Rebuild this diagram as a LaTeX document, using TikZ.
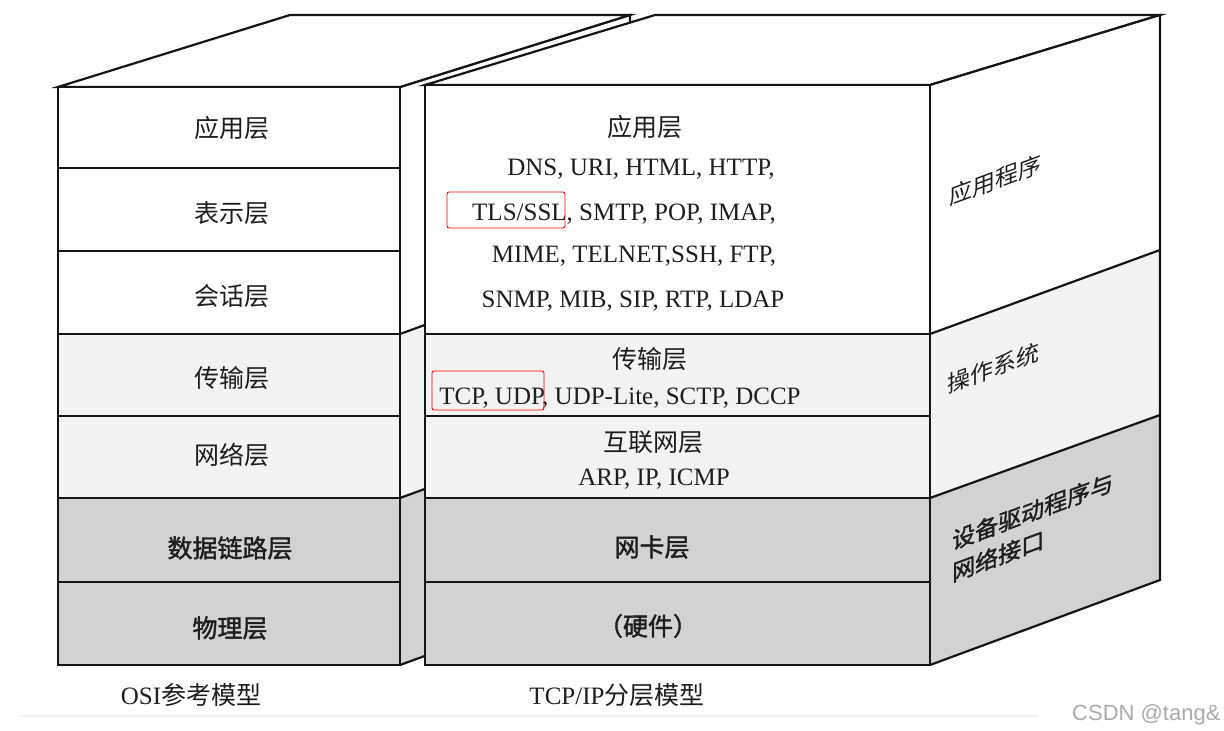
\documentclass[tikz,border=0pt]{standalone}
\usepackage{fontspec}
\setmainfont{Liberation Serif}
\newfontfamily\cjk{Noto Sans CJK SC}
\newfontfamily\cjkb[FakeBold=1.6]{Noto Sans CJK SC}
\newfontfamily\wmfont{Liberation Sans}
\definecolor{edge}{HTML}{151515}
\definecolor{txt}{HTML}{1E1E1E}
\definecolor{lightfill}{HTML}{F3F3F3}
\definecolor{darkfill}{HTML}{D2D2D2}
\definecolor{wmcol}{HTML}{ABABAB}
\tikzset{
  face/.style={draw=edge, line width=2.2pt, line join=miter},
  cn/.style={font=\cjk\fontsize{25}{30}\selectfont, text=txt, inner sep=0pt},
  cnb/.style={font=\cjkb\fontsize{25}{30}\selectfont, text=txt, inner sep=0pt},
  cns/.style={font=\cjk\fontsize{23}{32}\selectfont, text=txt, inner sep=0pt, transform shape},
  cnsb/.style={font=\cjkb\fontsize{23}{32}\selectfont, text=txt, inner sep=0pt, transform shape, align=left},
  en/.style={font=\fontsize{25}{30}\selectfont, text=txt, inner sep=0pt, anchor=base},
  redbox/.style={draw=red, line width=0.9pt, rounded corners=2pt},
}
\begin{document}
\begin{tikzpicture}[x=1pt, y=-1pt]
\useasboundingbox (0,0) rectangle (1224,731);
\fill[white] (0,0) rectangle (1224,731);
% faint strip at the bottom
\draw[gray!10, line width=1.5pt] (20,716) -- (1038,716);

% ---------- OSI box ----------
% right face (mostly hidden)
\fill[white] (400,87) -- (630,15) -- (630,250) -- (400,334) -- cycle;
\fill[lightfill] (400,334) -- (630,250) -- (630,414) -- (400,498) -- cycle;
\fill[darkfill] (400,498) -- (630,414) -- (630,581) -- (400,665) -- cycle;
\draw[face] (400,87) -- (630,15) -- (630,581) -- (400,665);
\draw[face] (400,334) -- (630,250);
\draw[face] (400,498) -- (630,414);
% top face
\filldraw[face, fill=white] (58,87) -- (290,15) -- (630,15) -- (400,87) -- cycle;
% front face
\fill[white] (58,87) rectangle (400,334);
\fill[lightfill] (58,334) rectangle (400,498);
\fill[darkfill] (58,498) rectangle (400,665);
\draw[face] (58,87) rectangle (400,665);
\foreach \yy in {168,251,334,416,498,582} \draw[face] (58,\yy) -- (400,\yy);

% ---------- TCP/IP box ----------
% top face
\filldraw[face, fill=white] (425,85) -- (655,15) -- (1160,15) -- (930,85) -- cycle;
% right face
\fill[white] (930,85) -- (1160,15) -- (1160,250) -- (930,334) -- cycle;
\fill[lightfill] (930,334) -- (1160,250) -- (1160,415) -- (930,498) -- cycle;
\fill[darkfill] (930,498) -- (1160,415) -- (1160,580) -- (930,665) -- cycle;
\draw[face] (930,85) -- (1160,15) -- (1160,580) -- (930,665);
\draw[face] (930,334) -- (1160,250);
\draw[face] (930,498) -- (1160,415);
% front face
\fill[white] (425,85) rectangle (930,334);
\fill[lightfill] (425,334) rectangle (930,498);
\fill[darkfill] (425,498) rectangle (930,665);
\draw[face] (425,85) rectangle (930,665);
\foreach \yy in {334,416,498,582} \draw[face] (425,\yy) -- (930,\yy);

% ---------- OSI labels ----------
\node[cn]  (osi7) at (232,128) {应用层};
\node[cn]  (osi6) at (232,213) {表示层};
\node[cn]  (osi5) at (232,296) {会话层};
\node[cn]  (osi4) at (232,378) {传输层};
\node[cn]  (osi3) at (232,455) {网络层};
\node[cnb] (osi2) at (230,548) {数据链路层};
\node[cnb] (osi1) at (230,628) {物理层};

% ---------- TCP/IP labels ----------
\node[cn] (tapp) at (645,127) {应用层};
\node[en] (tl1) at (641,175) {DNS, URI, HTML, HTTP,};
\node[en] (tl2) at (624,220) {TLS/SSL, SMTP, POP, IMAP,};
\node[en] (tl3) at (634,262) {MIME, TELNET,SSH, FTP,};
\node[en] (tl4) at (633,307) {SNMP, MIB, SIP, RTP, LDAP};
\node[cn] (ttrans) at (650,359) {传输层};
\node[en] (tl5) at (620,404) {TCP, UDP, UDP-Lite, SCTP, DCCP};
\node[cn] (tnet) at (653,442) {互联网层};
\node[en] (tl6) at (654,485) {ARP, IP, ICMP};
\node[cnb] (tnic) at (652,547) {网卡层};
\node[cnb] (thw) at (648,626) {（硬件）};

% red highlight boxes
\draw[redbox] (447,192) rectangle (565,228);
\draw[redbox] (432,371) rectangle (544,410);

% ---------- right face labels ----------
\begin{scope}[shift={(995,180)}, yslant=0.37]
  \node[cns] (rapp) at (0,0) {应用程序};
\end{scope}
\begin{scope}[shift={(993,368)}, yslant=0.37]
  \node[cns] (ros) at (0,0) {操作系统};
\end{scope}
\begin{scope}[shift={(952,557)}, yslant=0.37]
  \node[cnsb, anchor=west] (rdrv) at (0,0) {设备驱动程序与\\网络接口};
\end{scope}

% ---------- captions ----------
\node[font=\fontsize{25}{30}\selectfont, text=txt, inner sep=0pt] (capl) at (191,695) {OSI{\cjk 参考模型}};
\node[font=\fontsize{25}{30}\selectfont, text=txt, inner sep=0pt] (capr) at (617,695) {TCP/IP{\cjk 分层模型}};
\node[font=\wmfont\fontsize{22}{26}\selectfont, text=wmcol, inner sep=0pt, anchor=base west] (wm) at (1072,720) {CSDN @tang\&};
\end{tikzpicture}
\end{document}
